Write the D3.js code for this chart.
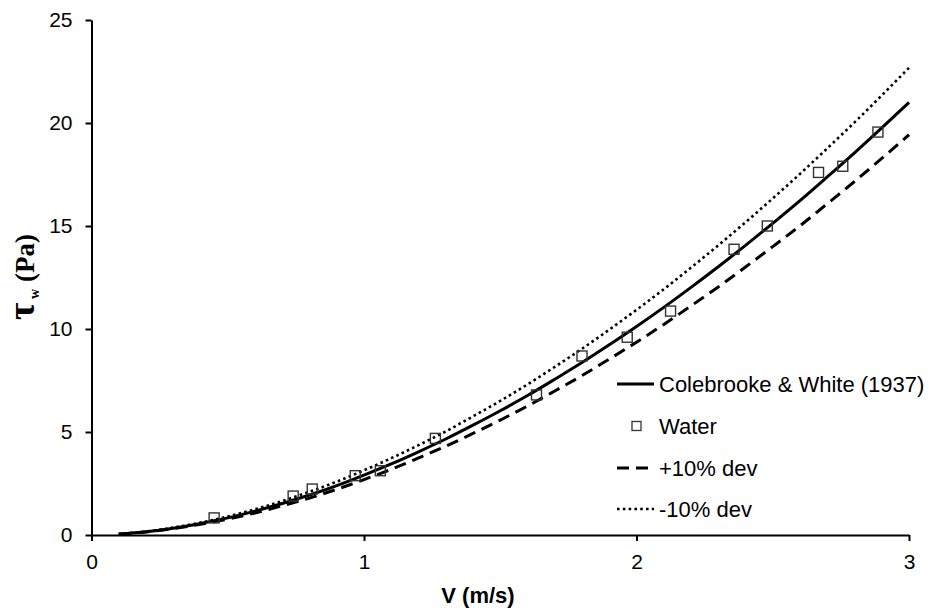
<!DOCTYPE html>
<html>
<head>
<meta charset="utf-8">
<script src="https://cdn.jsdelivr.net/npm/d3@7"></script>
<style>
  body { margin: 0; background: #fff; }
  svg { display: block; }
  .tick text { font-family: "Liberation Sans", Arial, sans-serif; font-size: 21px; fill: #000; }
</style>
</head>
<body>
<svg id="chart" width="929" height="610"></svg>
<script>
// Velocity grid for the model curves (m/s)
const velocity = [0.1, 0.2, 0.3, 0.4, 0.5, 0.6, 0.7, 0.8, 0.9, 1.0,
                  1.1, 1.2, 1.3, 1.4, 1.5, 1.6, 1.7, 1.8, 1.9, 2.0,
                  2.1, 2.2, 2.3, 2.4, 2.5, 2.6, 2.7, 2.8, 2.9, 3.0];
// Wall shear stress (Pa), Colebrooke & White (1937)
const colebrooke = [0.05, 0.16, 0.33, 0.56, 0.83, 1.16, 1.53, 1.94, 2.40, 2.91,
                    3.45, 4.04, 4.66, 5.33, 6.03, 6.77, 7.56, 8.37, 9.23, 10.12,
                    11.05, 12.02, 13.02, 14.06, 15.13, 16.23, 17.38, 18.55, 19.76, 21.00];
// +10% deviation band
const devPlus = [0.04, 0.15, 0.31, 0.52, 0.77, 1.07, 1.42, 1.79, 2.22, 2.69,
                 3.19, 3.74, 4.31, 4.93, 5.58, 6.26, 6.99, 7.74, 8.54, 9.36,
                 10.22, 11.12, 12.04, 13.01, 14.00, 15.01, 16.08, 17.16, 18.28, 19.43];
// -10% deviation band
const devMinus = [0.05, 0.17, 0.36, 0.60, 0.90, 1.25, 1.65, 2.10, 2.59, 3.14,
                  3.73, 4.36, 5.03, 5.76, 6.51, 7.31, 8.16, 9.04, 9.97, 10.93,
                  11.93, 12.98, 14.06, 15.18, 16.34, 17.53, 18.77, 20.03, 21.34, 22.68];
// Measured water data
const waterV   = [0.45, 0.74, 0.81, 0.968, 1.06, 1.262, 1.633, 1.80, 1.966, 2.125, 2.358, 2.48, 2.668, 2.757, 2.886];
const waterTau = [0.83, 1.89, 2.23, 2.88, 3.12, 4.69, 6.80, 8.69, 9.60, 10.87, 13.87, 15.0, 17.6, 17.9, 19.56];

const xTicks = [0, 1, 2, 3];
const yTicks = [0, 5, 10, 15, 20, 25];
const legendLabels = ["Colebrooke & White (1937)", "Water", "+10% dev", "-10% dev"];

const svg = d3.select("#chart");
const x = d3.scaleLinear().domain([0, 3]).range([91.5, 909]);
const y = d3.scaleLinear().domain([0, 25]).range([535, 20]);

// Axes
const xAxis = svg.append("g").attr("transform", `translate(0,${y(0)})`)
  .call(d3.axisBottom(x).tickValues(xTicks).tickFormat(d3.format("d")).tickSize(6).tickSizeOuter(0).tickPadding(13));
const yAxis = svg.append("g").attr("transform", `translate(${x(0)},0)`)
  .call(d3.axisLeft(y).tickValues(yTicks).tickFormat(d3.format("d")).tickSize(6).tickSizeOuter(0).tickPadding(13));
[xAxis, yAxis].forEach(g => {
  g.select(".domain").attr("stroke", "#000").attr("stroke-width", 2);
  g.selectAll(".tick line").attr("stroke", "#000").attr("stroke-width", 2);
});

// Curves
const line = d3.line().x(d => x(d[0])).y(d => y(d[1])).curve(d3.curveMonotoneX);
const series = [
  { vals: devMinus, dash: "2.6,3.2", width: 2.6 },
  { vals: devPlus, dash: "12,7", width: 3 },
  { vals: colebrooke, dash: null, width: 3 }
];
series.forEach(s => {
  svg.append("path")
    .datum(velocity.map((v, i) => [v, s.vals[i]]))
    .attr("d", line)
    .attr("fill", "none")
    .attr("stroke", "#000")
    .attr("stroke-width", s.width)
    .attr("stroke-dasharray", s.dash);
});

// Water markers
const ms = 10;
svg.append("g").selectAll("rect")
  .data(waterV.map((v, i) => [v, waterTau[i]]))
  .join("rect")
  .attr("x", d => x(d[0]) - ms / 2)
  .attr("y", d => y(d[1]) - ms / 2)
  .attr("width", ms).attr("height", ms)
  .attr("fill", "none")
  .attr("stroke", "#333")
  .attr("stroke-width", 1.4);

// Legend
const lg = svg.append("g").attr("font-family", "Liberation Sans, Arial, sans-serif").attr("font-size", 22);
const rowY = [384, 426, 468, 509];
lg.append("line").attr("x1", 617).attr("x2", 654).attr("y1", rowY[0]).attr("y2", rowY[0])
  .attr("stroke", "#000").attr("stroke-width", 3);
lg.append("rect").attr("x", 632).attr("y", rowY[1] - 4.5).attr("width", 9).attr("height", 9)
  .attr("fill", "none").attr("stroke", "#333").attr("stroke-width", 1.3);
lg.append("line").attr("x1", 617).attr("x2", 654).attr("y1", rowY[2]).attr("y2", rowY[2])
  .attr("stroke", "#000").attr("stroke-width", 3).attr("stroke-dasharray", "12,7");
lg.append("line").attr("x1", 617).attr("x2", 654).attr("y1", rowY[3]).attr("y2", rowY[3])
  .attr("stroke", "#000").attr("stroke-width", 2.6).attr("stroke-dasharray", "2.6,3.2");
legendLabels.forEach((t, i) => {
  lg.append("text").attr("x", 659).attr("y", rowY[i]).attr("dy", "0.35em").text(t);
});

// Axis titles
svg.append("text")
  .attr("x", 478).attr("y", 603)
  .attr("text-anchor", "middle")
  .attr("font-family", "Liberation Sans, Arial, sans-serif")
  .attr("font-weight", "bold").attr("font-size", 22)
  .text("V (m/s)");

const yt = svg.append("text")
  .attr("transform", "translate(34,277) rotate(-90)")
  .attr("text-anchor", "middle")
  .attr("font-family", "Liberation Serif, Times New Roman, serif")
  .attr("font-weight", "bold");
yt.append("tspan").attr("font-size", 38).text("τ");
yt.append("tspan").attr("font-size", 14).attr("dy", 5).text("  w");
yt.append("tspan").attr("font-size", 27).attr("dy", -5).text("  (Pa)");
</script>
</body>
</html>
